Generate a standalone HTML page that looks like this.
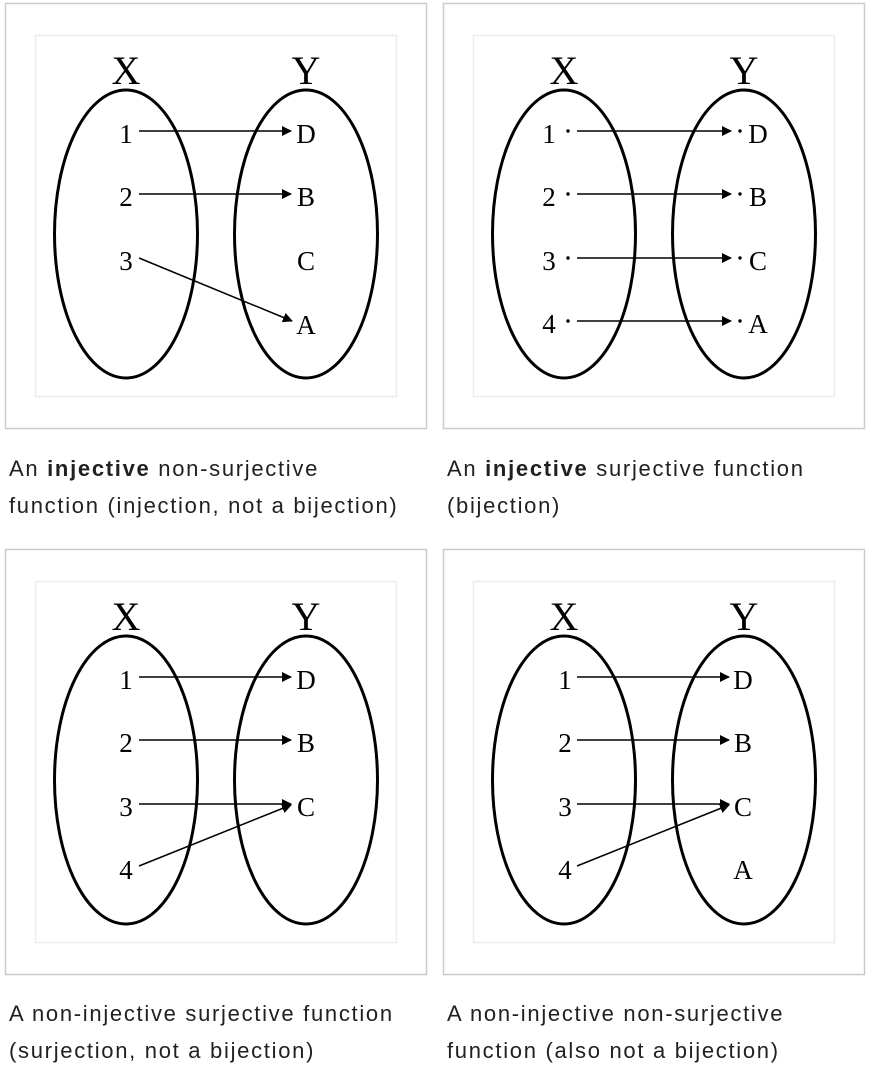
<!DOCTYPE html>
<html><head><meta charset="utf-8"><style>
body{margin:0;background:#fff;width:870px;height:1076px;overflow:hidden}
.cap{position:absolute;font-family:"Liberation Sans",Arial,sans-serif;font-size:22px;letter-spacing:1.7px;line-height:37px;color:#202122;white-space:nowrap}
</style></head><body>
<svg width="870" height="1076" style="position:absolute;left:0;top:0">
<defs>
<marker id="ah" markerWidth="10" markerHeight="10" refX="9" refY="5" orient="auto" markerUnits="userSpaceOnUse"><path d="M0,0 L10,5 L0,10 z" fill="#000"/></marker>
<g id="frame">
<rect x="5.5" y="3.5" width="421" height="425" fill="none" stroke="#c8ccd1" stroke-width="1.5"/>
<rect x="35.5" y="35.5" width="361" height="361" fill="none" stroke="#eaecf0" stroke-width="1.5"/>
<ellipse cx="126" cy="234" rx="71.5" ry="144" fill="none" stroke="#000" stroke-width="3"/>
<ellipse cx="306" cy="234" rx="71.5" ry="144" fill="none" stroke="#000" stroke-width="3"/>
<text x="126" y="84" font-size="40" text-anchor="middle" font-family="Liberation Serif,serif">X</text>
<text x="306" y="84" font-size="40" text-anchor="middle" font-family="Liberation Serif,serif">Y</text>
</g>
</defs>
<g font-family="Liberation Serif,serif" font-size="27" text-anchor="middle">
<g>
<use href="#frame"/>
<text x="126" y="143">1</text><text x="126" y="206">2</text><text x="126" y="270">3</text>
<text x="306" y="143">D</text><text x="306" y="206">B</text><text x="306" y="270">C</text><text x="306" y="334">A</text>
<g stroke="#000" stroke-width="1.5" marker-end="url(#ah)">
<line x1="139" y1="131" x2="291" y2="131"/><line x1="139" y1="194" x2="291" y2="194"/><line x1="139" y1="258" x2="292" y2="321"/>
</g></g>
<g transform="translate(438,0)">
<use href="#frame"/>
<text x="111" y="143">1</text><text x="111" y="206">2</text><text x="111" y="270">3</text><text x="111" y="333">4</text>
<text x="320" y="143">D</text><text x="320" y="206">B</text><text x="320" y="270">C</text><text x="320" y="333">A</text>
<g fill="#000"><circle cx="130" cy="131" r="1.7"/><circle cx="130" cy="194" r="1.7"/><circle cx="130" cy="258" r="1.7"/><circle cx="130" cy="321" r="1.7"/>
<circle cx="302" cy="131" r="1.7"/><circle cx="302" cy="194" r="1.7"/><circle cx="302" cy="258" r="1.7"/><circle cx="302" cy="321" r="1.7"/></g>
<g stroke="#000" stroke-width="1.5" marker-end="url(#ah)">
<line x1="139" y1="131" x2="293" y2="131"/><line x1="139" y1="194" x2="293" y2="194"/><line x1="139" y1="258" x2="293" y2="258"/><line x1="139" y1="321" x2="293" y2="321"/>
</g></g>
<g transform="translate(0,546)">
<use href="#frame"/>
<text x="126" y="143">1</text><text x="126" y="206">2</text><text x="126" y="270">3</text><text x="126" y="333">4</text>
<text x="306" y="143">D</text><text x="306" y="206">B</text><text x="306" y="270">C</text>
<g stroke="#000" stroke-width="1.5" marker-end="url(#ah)">
<line x1="139" y1="131" x2="291" y2="131"/><line x1="139" y1="194" x2="291" y2="194"/><line x1="139" y1="258" x2="291" y2="258"/><line x1="139" y1="320" x2="291" y2="259"/>
</g></g>
<g transform="translate(438,546)">
<use href="#frame"/>
<text x="127" y="143">1</text><text x="127" y="206">2</text><text x="127" y="270">3</text><text x="127" y="333">4</text>
<text x="305" y="143">D</text><text x="305" y="206">B</text><text x="305" y="270">C</text><text x="305" y="333">A</text>
<g stroke="#000" stroke-width="1.5" marker-end="url(#ah)">
<line x1="139" y1="131" x2="291" y2="131"/><line x1="139" y1="194" x2="291" y2="194"/><line x1="139" y1="258" x2="291" y2="258"/><line x1="139" y1="320" x2="291" y2="259"/>
</g></g>
</g>
</svg>
<div class="cap" style="left:9px;top:450px">An <b>injective</b> non-surjective<br>function (injection, not a bijection)</div>
<div class="cap" style="left:447px;top:450px">An <b>injective</b> surjective function<br>(bijection)</div>
<div class="cap" style="left:9px;top:995px">A non-injective surjective function<br>(surjection, not a bijection)</div>
<div class="cap" style="left:447px;top:995px">A non-injective non-surjective<br>function (also not a bijection)</div>
</body></html>
